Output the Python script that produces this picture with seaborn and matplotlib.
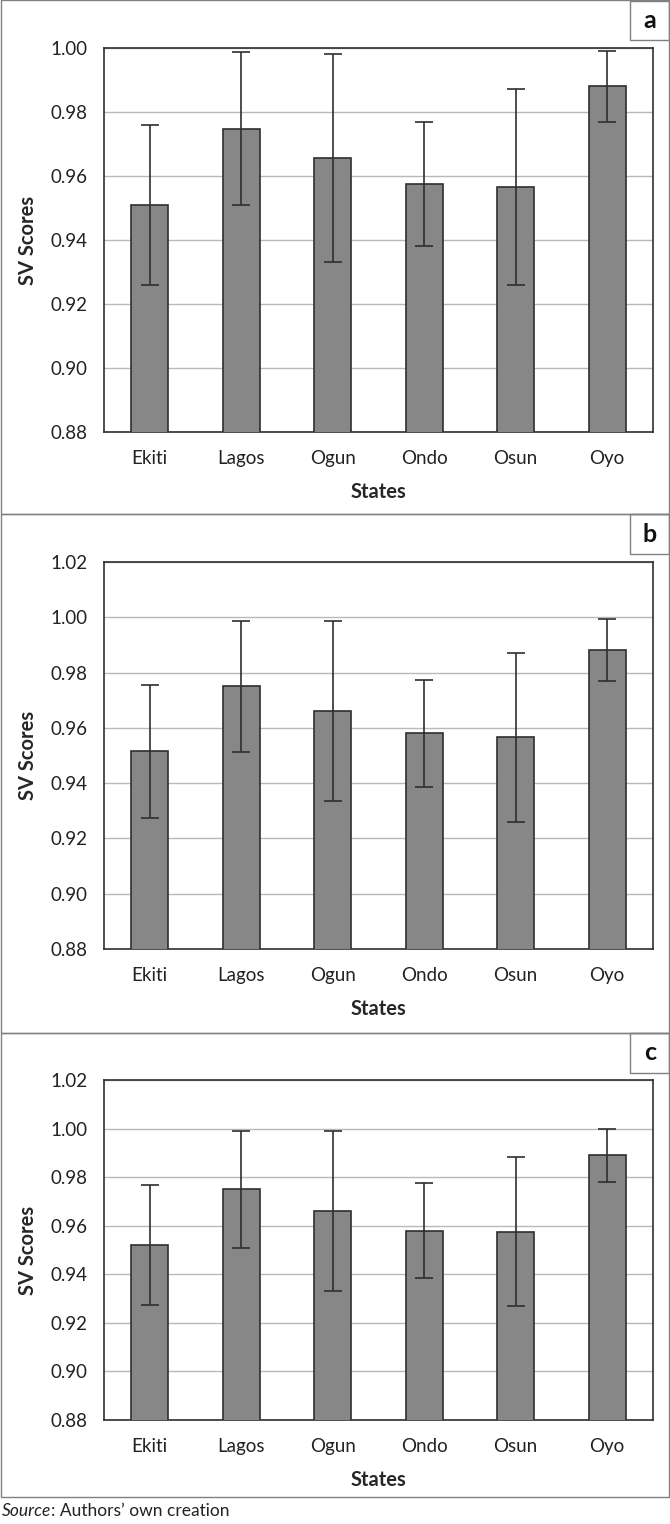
"""three stacked bar charts of SV scores by state, with error bars"""

import matplotlib.pyplot as plt
import seaborn as sns
from matplotlib.patches import Rectangle
from matplotlib.ticker import FixedLocator, FormatStrFormatter

STATES = ["Ekiti", "Lagos", "Ogun", "Ondo", "Osun", "Oyo"]

MEAN_A = [0.951, 0.9748, 0.9655, 0.9575, 0.9565, 0.988]
ERR_A = [0.025, 0.024, 0.0325, 0.0195, 0.0307, 0.011]

MEAN_B = [0.9515, 0.975, 0.966, 0.958, 0.9566, 0.9883]
ERR_B = [0.024, 0.0238, 0.0325, 0.0193, 0.0305, 0.0112]

MEAN_C = [0.952, 0.975, 0.966, 0.958, 0.9575, 0.989]
ERR_C = [0.0247, 0.0242, 0.033, 0.0195, 0.0307, 0.011]

PANEL_LABELS = ["a", "b", "c"]
Y_MAX = [1.00, 1.02, 1.02]
Y_MIN = 0.88
Y_STEP = 0.02

W, H = 670, 1524

# pixel layout: panel frame (top, bottom) and axes (top, bottom)
PANEL_ROWS = [(0.5, 514), (514, 1033), (1033, 1497)]
AXES_ROWS = [(48, 432), (562, 949), (1080, 1420)]
AX_LEFT, AX_RIGHT = 104, 653

BAR_COLOR = "#878787"
DARK = "#2f2f2f"
GRID = "#b9b9b9"
FRAME = "#808080"


def px_rect(left, top, right, bottom):
    return [left / W, 1 - bottom / H, (right - left) / W, (bottom - top) / H]


def draw_panel(ax, means, errs, ymax):
    sns.barplot(x=STATES, y=means, ax=ax, color=BAR_COLOR, saturation=1,
                width=0.4, edgecolor=DARK, linewidth=1.2, zorder=3)
    ax.errorbar(range(len(STATES)), means, yerr=errs, fmt="none",
                ecolor=DARK, elinewidth=1.2, capsize=6.5, capthick=1.2, zorder=4)

    ax.set_ylim(Y_MIN, ymax)
    ax.set_xlim(-0.5, len(STATES) - 0.5)
    n = int(round((ymax - Y_MIN) / Y_STEP))
    ax.yaxis.set_major_locator(FixedLocator([Y_MIN + i * Y_STEP for i in range(n + 1)]))
    ax.yaxis.set_major_formatter(FormatStrFormatter("%.2f"))
    ax.yaxis.grid(True, color=GRID, linewidth=1.0, zorder=0)
    ax.set_axisbelow(True)

    ax.xaxis.set_minor_locator(FixedLocator([i - 0.5 for i in range(len(STATES) + 1)]))
    ax.tick_params(axis="x", which="major", length=0, pad=13, labelsize=13.5, labelcolor="#222222")
    ax.tick_params(axis="x", which="minor", length=7, width=1.1, color=DARK, direction="out")
    ax.tick_params(axis="y", length=7, width=1.1, color=DARK, direction="out", pad=5,
                   labelsize=13.5, labelcolor="#222222")

    for spine in ax.spines.values():
        spine.set_visible(True)
        spine.set_color(DARK)
        spine.set_linewidth(1.2)

    ax.set_ylabel("SV Scores", fontsize=14.5, fontweight="bold")
    ax.yaxis.set_label_coords(-(AX_LEFT - 38) / (AX_RIGHT - AX_LEFT), 0.5)
    ax.set_xlabel("States", fontsize=14.5, fontweight="bold", labelpad=11)


def main():
    sns.set_theme(style="white")
    plt.rcParams["font.family"] = ["Lato", "DejaVu Sans"]

    fig = plt.figure(figsize=(W / 100, H / 100), dpi=100)

    panels = [(MEAN_A, ERR_A), (MEAN_B, ERR_B), (MEAN_C, ERR_C)]
    for i, (means, errs) in enumerate(panels):
        p_top, p_bot = PANEL_ROWS[i]
        a_top, a_bot = AXES_ROWS[i]

        # outer frame of the panel
        fig.add_artist(Rectangle((0.5 / W, 1 - p_bot / H), 668.5 / W, (p_bot - p_top) / H,
                                 transform=fig.transFigure, fill=False,
                                 edgecolor=FRAME, linewidth=1.0))
        # letter box in the top right corner
        fig.add_artist(Rectangle((630 / W, 1 - (p_top + 39.5) / H), 39 / W, 39.5 / H,
                                 transform=fig.transFigure, fill=False,
                                 edgecolor=FRAME, linewidth=1.0))
        fig.text(650 / W, 1 - (p_top + 20) / H, PANEL_LABELS[i], ha="center", va="center",
                 fontsize=18, fontweight="bold", color="#111111")

        ax = fig.add_axes(px_rect(AX_LEFT, a_top, AX_RIGHT, a_bot))
        draw_panel(ax, means, errs, Y_MAX[i])

    src = fig.text(2 / W, 1 - 1511 / H, "Source", style="italic", fontsize=12.5,
                   ha="left", va="center", color="#222222")
    fig.canvas.draw()
    bbox = src.get_window_extent()
    fig.text(bbox.x1 / W, 1 - 1511 / H, ": Authors\u2019 own creation", fontsize=12.5,
             ha="left", va="center", color="#222222")

    fig.savefig("out.png", dpi=100)
    plt.close(fig)


if __name__ == "__main__":
    main()
